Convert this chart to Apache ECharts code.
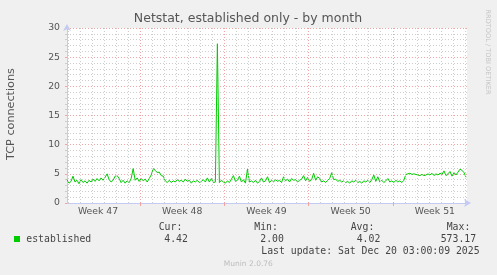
<!DOCTYPE html>
<html>
<head>
<meta charset="utf-8">
<script src="https://cdn.jsdelivr.net/npm/echarts@6/dist/echarts.min.js"></script>
<style>
html,body{margin:0;padding:0;background:#f0f0f0;}
#chart{width:497px;height:275px;}
</style>
</head>
<body>
<div id="chart"></div>
<script>
// ---- data ----
const weekLabels = ['Week 47', 'Week 48', 'Week 49', 'Week 50', 'Week 51'];
const weekCenters = [3.5, 10.5, 17.5, 24.5, 31.5];   // days since Monday of week 47
const weekStarts = [7, 14, 21, 28];
const xStartDay = 0.923;     // left edge of graph, days since Monday of week 47
const xEndDay = 34.17;
const sampleStepDay = 1 / 6; // 4-hour samples
const yTickValues = [0, 5, 10, 15, 20, 25, 30];
const established = [
  4.0, 3.4, 3.7, 4.6, 3.6, 3.9, 3.3, 4.0, 3.5, 3.8,
  3.4, 3.9, 3.6, 4.1, 3.7, 4.2, 3.8, 4.3, 3.9, 4.4,
  5.0, 4.0, 3.6, 3.9, 4.6, 4.7, 4.2, 3.5, 3.9, 3.4,
  3.8, 3.5, 4.2, 5.9, 3.9, 4.3, 3.7, 4.2, 3.8, 4.1,
  3.6, 4.2, 4.8, 5.9, 5.6, 5.2, 5.3, 4.7, 4.6, 3.8,
  3.5, 3.9, 3.5, 3.8, 3.6, 4.0, 3.7, 3.9, 3.6, 4.1,
  3.7, 3.9, 3.4, 3.8, 3.6, 3.9, 3.5, 3.7, 4.0, 3.6,
  4.3, 3.6, 4.2, 3.5, 3.6, 27.3, 3.5, 3.9, 3.6, 3.4,
  3.8, 3.5, 4.1, 4.7, 3.7, 3.9, 4.6, 3.6, 4.0, 3.4,
  5.8, 3.6, 3.8, 3.5, 3.9, 3.4, 3.7, 4.3, 3.6, 3.8,
  4.5, 3.5, 3.9, 3.6, 4.0, 3.7, 3.9, 3.5, 4.5, 3.8,
  4.1, 3.6, 4.2, 3.9, 4.0, 3.6, 3.9, 4.1, 4.7, 3.8,
  4.4, 3.7, 4.0, 5.1, 3.9, 4.5, 4.2, 3.6, 3.8, 3.5,
  3.9, 4.2, 5.2, 4.0, 4.1, 3.7, 3.9, 3.6, 3.8, 3.5,
  3.7, 3.4, 3.8, 3.6, 3.9, 3.5, 3.7, 3.4, 3.8, 3.6,
  3.9, 3.5, 4.0, 4.8, 3.7, 4.5, 3.6, 3.9, 3.5, 3.8,
  4.2, 3.6, 3.8, 3.5, 3.9, 3.6, 3.8, 3.5, 3.9, 4.9,
  5.0, 5.1, 4.9, 5.0, 4.9, 4.8, 4.7, 4.9, 4.7, 4.8,
  5.0, 4.8, 5.1, 4.7, 5.0, 4.8, 5.1, 4.9, 5.5, 4.7,
  5.0, 5.4, 4.6, 5.2, 4.8, 5.3, 5.8, 5.6, 5.2, 4.42
];
const legendName = 'established';
const statLabels = ['Cur:', 'Min:', 'Avg:', 'Max:'];
const statValues = ['4.42', '2.00', '4.02', '573.17'];
const titleText = 'Netstat, established only - by month';
const yAxisTitle = 'TCP connections';
const lastUpdate = 'Last update: Sat Dec 20 03:00:09 2025';
const footer = 'Munin 2.0.76';
const sideText = 'RRDTOOL / TOBI OETIKER';

// ---- build ----
const minorColor = '#cdcdcd';
const majorColor = '#f2a4a4';
const seriesData = established.map((v, i) => [xStartDay + i * sampleStepDay, v]);
const dayLines = [];
for (let d = Math.ceil(xStartDay); d < xEndDay; d++) {
  if (weekStarts.indexOf(d) === -1) {
    dayLines.push({ xAxis: d, lineStyle: { color: minorColor, type: [1, 2], width: 1 } });
  }
}
const weekLines = weekStarts.map(d => ({ xAxis: d, lineStyle: { color: majorColor, type: [1, 2], width: 1 } }));

const mono = 'DejaVu Sans Mono';
const statX = [[158.7, 164.3], [254.3, 260.3], [350.7, 356.7], [446.7, 440.7]];
const graphics = [
  { type: 'text', x: 248, y: 19, style: { text: titleText, font: '12.5px "DejaVu Sans"', fill: '#555', align: 'center', verticalAlign: 'middle' } },
  { type: 'text', x: 10.8, y: 114, rotation: Math.PI / 2, style: { text: yAxisTitle, font: '11.2px "DejaVu Sans"', fill: '#555', align: 'center', verticalAlign: 'middle' } },
  { type: 'text', x: 487.5, y: 52, rotation: -Math.PI / 2, style: { text: sideText, font: '6.6px "DejaVu Sans"', fill: '#c4c4c4', align: 'center', verticalAlign: 'middle' } },
  { type: 'rect', shape: { x: 14, y: 236, width: 6, height: 6 }, style: { fill: '#00cc00' } },
  { type: 'text', x: 26.3, y: 239.5, style: { text: legendName, font: '9.8px "' + mono + '"', fill: '#444', align: 'left', verticalAlign: 'middle' } },
  { type: 'text', x: 261.3, y: 251.7, style: { text: lastUpdate, font: '9.8px "' + mono + '"', fill: '#444', align: 'left', verticalAlign: 'middle' } },
  { type: 'text', x: 248.3, y: 264.3, style: { text: footer, font: '7.5px "DejaVu Sans"', fill: '#bdbdbd', align: 'center', verticalAlign: 'middle' } }
];
statLabels.forEach((s, k) => {
  graphics.push({ type: 'text', x: statX[k][0], y: 227.7, style: { text: s, font: '9.8px "' + mono + '"', fill: '#444', align: 'left', verticalAlign: 'middle' } });
  graphics.push({ type: 'text', x: statX[k][1], y: 239.5, style: { text: statValues[k], font: '9.8px "' + mono + '"', fill: '#444', align: 'left', verticalAlign: 'middle' } });
});

const chart = echarts.init(document.getElementById('chart'), null, { renderer: 'canvas' });
chart.setOption({
  animation: false,
  backgroundColor: '#f0f0f0',
  grid: { left: 67, right: 30, top: 28, bottom: 72, show: true, backgroundColor: '#ffffff', borderWidth: 0 },
  xAxis: {
    type: 'value', min: xStartDay, max: xEndDay,
    axisLine: { show: true, lineStyle: { color: '#c3cbf3', width: 1 }, symbol: ['none', 'arrow'], symbolSize: [6, 7], symbolOffset: [0, 4] },
    axisTick: { show: true, customValues: weekStarts, length: 3, lineStyle: { color: majorColor } },
    axisLabel: {
      customValues: weekCenters, margin: 4, fontSize: 9.3, color: '#555', fontFamily: 'DejaVu Sans',
      formatter: v => weekLabels[Math.round((v - 3.5) / 7)]
    },
    splitLine: { show: false }
  },
  yAxis: {
    type: 'value', min: yTickValues[0], max: yTickValues[yTickValues.length - 1], interval: 5,
    axisLine: { show: true, lineStyle: { color: '#c3cbf3', width: 1 }, symbol: ['none', 'arrow'], symbolSize: [6, 7], symbolOffset: [0, 4] },
    axisTick: { show: true, length: 2, lineStyle: { color: majorColor } },
    minorTick: { show: true, splitNumber: 5, length: 2, lineStyle: { color: minorColor } },
    axisLabel: { margin: 7, fontSize: 9.3, color: '#555', fontFamily: 'DejaVu Sans' },
    splitLine: { show: true, lineStyle: { color: majorColor, type: [1, 2], width: 1 } },
    minorSplitLine: { show: true, lineStyle: { color: minorColor, type: [1, 2], width: 1 } }
  },
  graphic: graphics,
  series: [
    {
      type: 'line', data: [[xStartDay, 0]], symbol: 'none', silent: true, z: 1,
      lineStyle: { opacity: 0 },
      markLine: { silent: true, symbol: ['none', 'none'], label: { show: false }, animation: false, data: dayLines.concat(weekLines) }
    },
    {
      name: legendName, type: 'line', data: seriesData, symbol: 'none', z: 3,
      lineStyle: { color: '#00cc00', width: 1 }
    }
  ]
});
</script>
</body>
</html>
